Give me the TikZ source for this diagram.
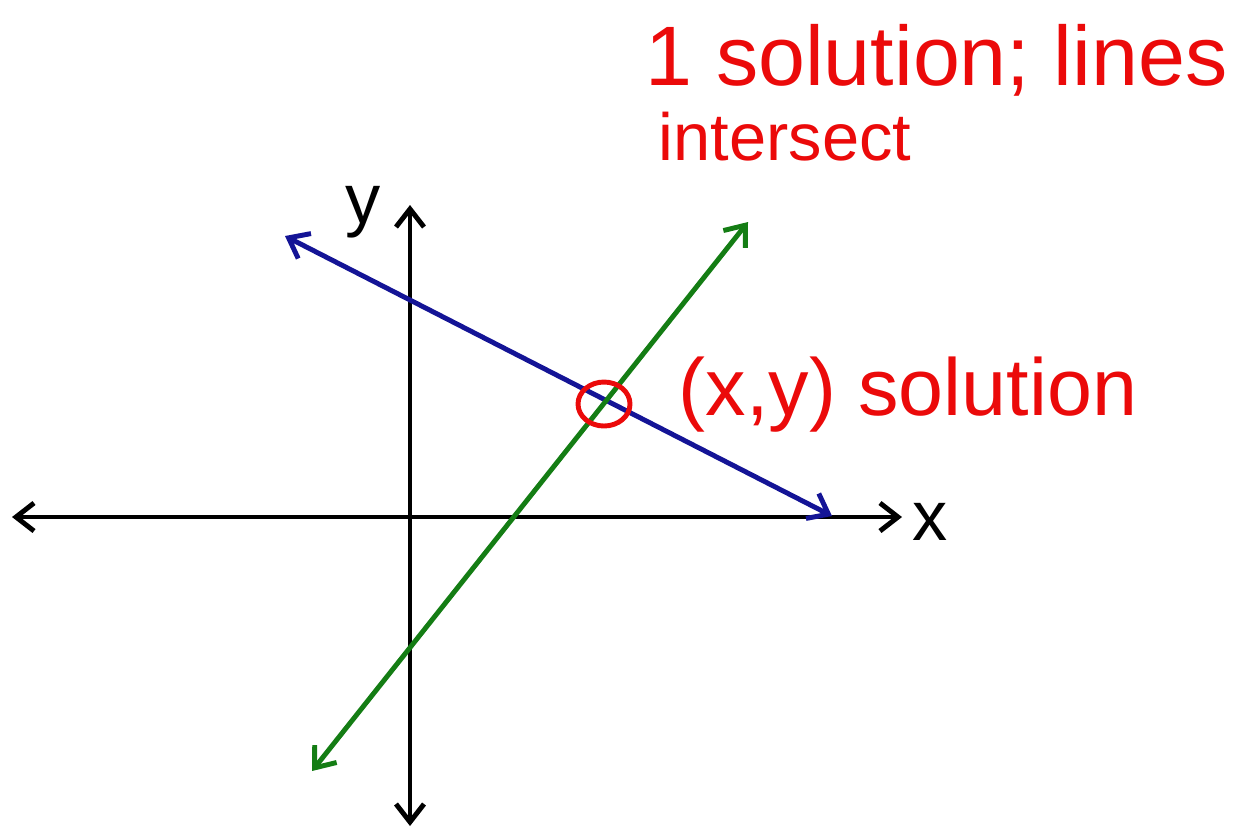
\documentclass[tikz,border=0pt]{standalone}
\usepackage{fontspec}
\setmainfont{Liberation Sans}
\usetikzlibrary{arrows.meta}
\definecolor{penred}{RGB}{235,10,10}
\definecolor{penblue}{RGB}{20,20,150}
\definecolor{pengreen}{RGB}{20,125,20}

\begin{document}
\begin{tikzpicture}[x=0.01cm,y=-0.01cm,
  axis/.style={{Straight Barb[length=1.8mm,width=2.8mm]}-{Straight Barb[length=1.8mm,width=2.8mm]},line width=1.4pt},
  note/.style={text=penred,anchor=west,inner sep=0pt}]
\useasboundingbox (0,0) rectangle (1246,829);

% axes
\coordinate (xleft) at (12,517);
\coordinate (xright) at (902,517);
\coordinate (ytop) at (410,205);
\coordinate (ybot) at (410,826);
\draw[axis] (xleft) -- (xright);
\draw[axis] (ybot) -- (ytop);
\node[inner sep=0pt] (xlab) at (930,522) {\fontsize{20}{24}\selectfont x};
\node[inner sep=0pt] (ylab) at (363,212) {\fontsize{20}{24}\selectfont y};

% the two lines
\coordinate (bstart) at (285,236);
\coordinate (bend) at (832,516);
\draw[axis,penblue] (bstart) -- (bend);
\coordinate (gstart) at (748,222);
\coordinate (gend) at (312,771);
\draw[axis,pengreen] (gstart) -- (gend);

% the point
\draw[penred,line width=1.4pt] (604,404) ellipse (26 and 22);

% notes
\node[note] (sol) at (678,395) {\fontsize{23}{27}\selectfont (x,y) solution};
\node[note] (one) at (645,60) {\fontsize{24}{28}\selectfont 1 solution; lines};
\node[note] (inter) at (658,137) {\fontsize{19}{24}\selectfont intersect};
\end{tikzpicture}
\end{document}
